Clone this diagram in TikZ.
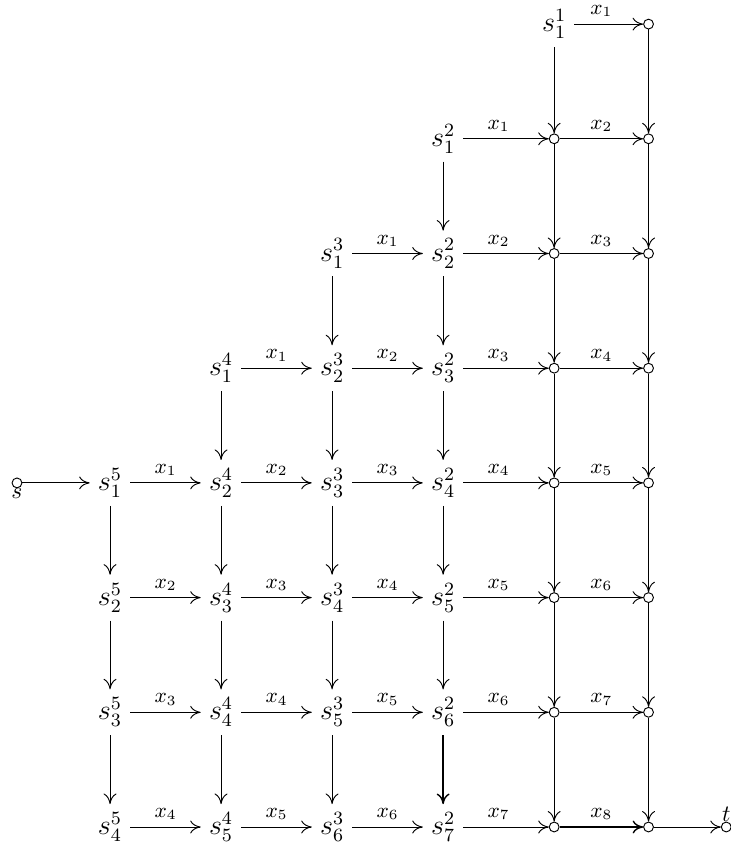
\documentclass[tikz,border=0pt]{standalone}
\usetikzlibrary{calc, arrows.meta}

\begin{document}
\begin{tikzpicture}[x=1.665cm, y=1.72cm, >={To[length=4.5pt, width=5.5pt]},
  state/.style={font=\large},
  dot/.style={draw, circle, inner sep=0pt, minimum size=4.2pt},
  lab/.style={font=\small, above=-0.5pt}]

\useasboundingbox (0.009,0.21) rectangle (6.586,-7.157);

% states s_i^j: column 6-j, row i+j-2
\foreach \j/\n in {5/4, 4/5, 3/6, 2/7, 1/1} {
  \foreach \i in {1,...,\n} {
    \node[state] (s\i-\j) at ({6-\j}, {-(\i+\j-2)}) {$s_{\i}^{\j}$};
  }
}

% the two columns of empty states
\foreach \r in {1,...,7} \node[dot] (a\r) at (5, -\r) {};
\foreach \r in {0,...,7} \node[dot] (b\r) at (5.85, -\r) {};

% source and sink
\node[dot, label={[inner sep=0pt]below:$s$}] (s) at (0.162, -4) {};
\node[dot, label={[inner sep=0pt]above:$t$}] (t) at (6.55, -7) {};

% horizontal moves between states
\foreach \j/\n in {5/4, 4/5, 3/6} {
  \foreach \i in {1,...,\n} {
    \pgfmathtruncatemacro\ii{\i+1}
    \pgfmathtruncatemacro\jj{\j-1}
    \draw[->] (s\i-\j) -- (s\ii-\jj);
    \node[lab] at ($(s\i-\j)!0.5!(s\ii-\jj)$) {$x_{\i}$};
  }
}
\foreach \i in {1,...,7} {
  \draw[->] (s\i-2) -- (a\i);
  \node[lab] at ($(s\i-2)!0.5!(a\i)$) {$x_{\i}$};
}
\draw[->] (s1-1) -- (b0);
\node[lab] at ($(s1-1)!0.5!(b0)$) {$x_1$};
\foreach \r in {1,...,6} {
  \pgfmathtruncatemacro\k{\r+1}
  \draw[->] (a\r) -- (b\r);
  \node[lab] at ($(a\r)!0.5!(b\r)$) {$x_{\k}$};
}
\draw[->, semithick] (a7) -- (b7);
\node[lab] at ($(a7)!0.5!(b7)$) {$x_8$};

% into and out of the grid
\draw[->] (s) -- (s1-5);
\draw[->] (b7) -- (t);

% vertical moves
\foreach \j/\n in {5/3, 4/4, 3/5, 2/5} {
  \foreach \i in {1,...,\n} {
    \pgfmathtruncatemacro\ii{\i+1}
    \draw[->] (s\i-\j) -- (s\ii-\j);
  }
}
\draw[->, semithick] (s6-2) -- (s7-2);
\draw[->] (s1-1) -- (a1);
\foreach \r in {1,...,6} {
  \pgfmathtruncatemacro\k{\r+1}
  \draw[->] (a\r) -- (a\k);
}
\foreach \r in {0,...,6} {
  \pgfmathtruncatemacro\k{\r+1}
  \draw[->] (b\r) -- (b\k);
}

\end{tikzpicture}
\end{document}
